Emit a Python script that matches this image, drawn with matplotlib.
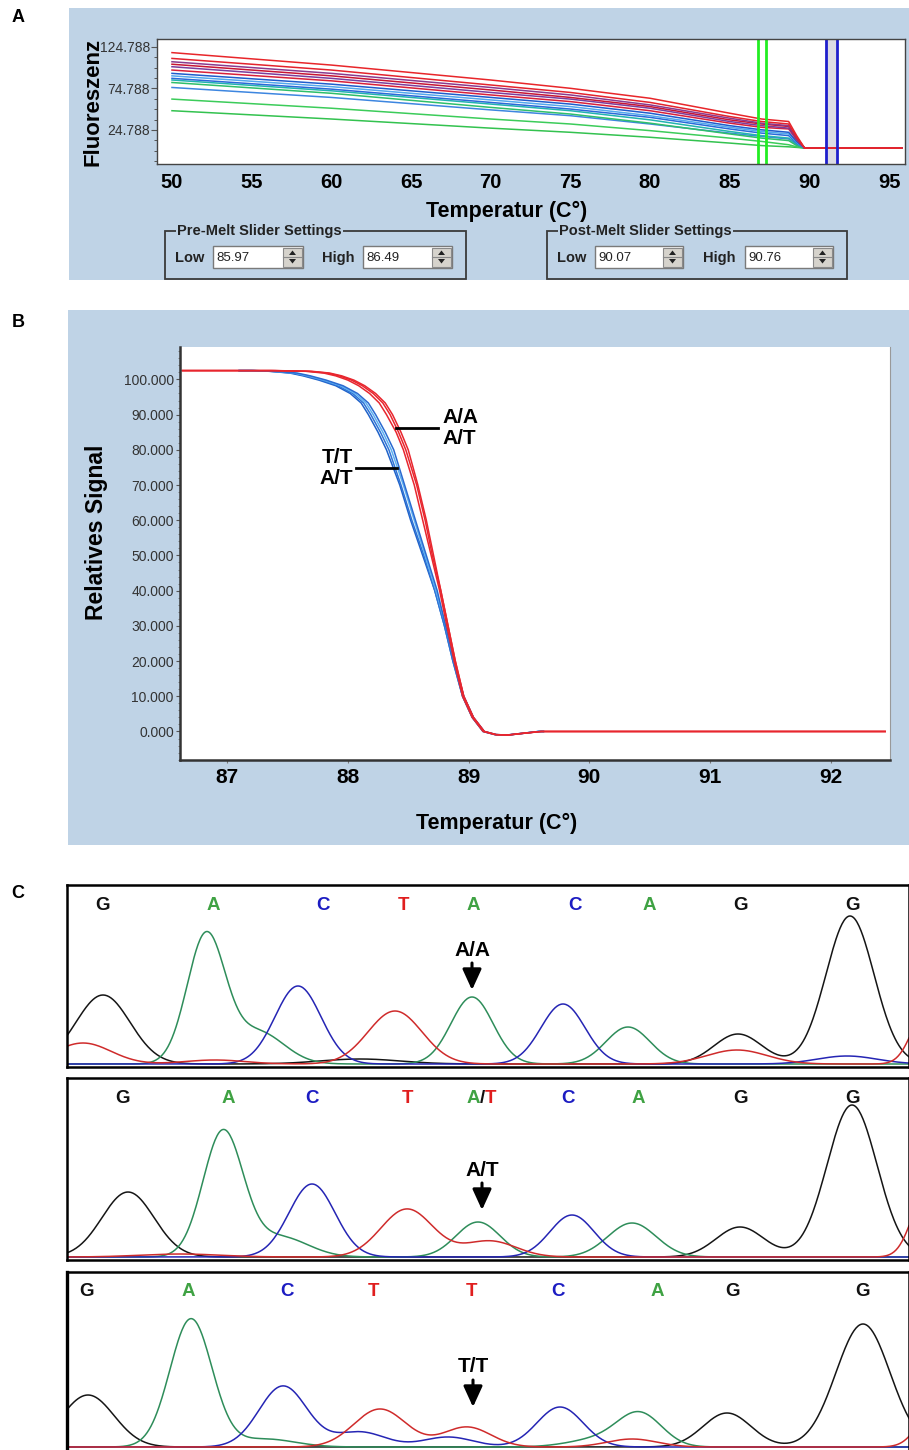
"""Schmelzkurven (A, B) und Sequenz-Chromatogramme (C)"""

import numpy as np
import matplotlib.pyplot as plt
from matplotlib.patches import Rectangle, Polygon
from matplotlib.ticker import FixedLocator, MultipleLocator

# ---------------- Daten A: Rohfluoreszenz ----------------
a_temps = [50, 60, 70, 75, 80, 85, 87, 88.7, 89.2, 89.7, 95.8]
a_curves = [
    ('green3', [48, 38, 27, 22, 16, 9, 6, 4.5, 3.8, 3, 3]),
    ('green2', [62, 51, 38, 32, 24, 15, 11, 7, 4.5, 3, 3]),
    ('blue3', [76, 64, 49, 42, 32, 21, 17, 14, 7, 3, 3]),
    ('green1', [82, 69, 52, 44, 33, 20, 15, 12, 6, 3, 3]),
    ('teal', [85, 72, 56, 48, 37, 23, 18, 15, 8, 3, 3]),
    ('blue2', [87, 74, 58, 50, 40, 26, 21, 18, 9, 3, 3]),
    ('lblue', [90, 77, 61, 53, 42, 28, 23, 20, 10, 3, 3]),
    ('blue1', [93, 80, 64, 56, 45, 30, 25, 22, 11, 3, 3]),
    ('red4', [97, 84, 67, 59, 48, 33, 28, 26, 13, 3, 3]),
    ('purple2', [101, 87, 70, 62, 51, 35, 30, 27, 14, 3, 3]),
    ('red3', [104, 90, 73, 64, 53, 37, 32, 29, 15, 3, 3]),
    ('purple1', [107, 93, 76, 67, 55, 39, 33, 30, 15, 3, 3]),
    ('red2', [111, 97, 79, 70, 58, 41, 35, 32, 16, 3, 3]),
    ('red1', [118, 103, 85, 75, 63, 45, 38, 35, 18, 3, 3]),
]
a_colors = {'green3': '#33c24f', 'green2': '#3ccc5a', 'green1': '#2fbf6a',
            'teal': '#22b3b0', 'blue3': '#3d86e0', 'blue2': '#2a6ad8',
            'lblue': '#52a8ee', 'blue1': '#1f5ccc', 'red4': '#d8203a',
            'purple2': '#7b3d9c', 'red3': '#c81535', 'purple1': '#8a3a8e',
            'red2': '#e3232d', 'red1': '#e8262a'}
a_pre_melt = [86.75, 87.25]
a_post_melt = [91.05, 91.75]
a_yticks = [24.788, 74.788, 124.788]
a_xticks = [50, 55, 60, 65, 70, 75, 80, 85, 90, 95]

# ---------------- Daten B: normalisierte Schmelzkurven ----------------
b_levels = [102.5, 102.5, 102.3, 101.8, 101, 99.8, 98.2, 96, 93.3, 90, 85, 80, 70,
            60, 50, 40, 30, 20, 10, 4, 0, -0.9, -1, -0.5, 0, 0]
b_red = [
    [86.63, 87.40, 87.70, 87.85, 87.95, 88.05, 88.14, 88.23, 88.31, 88.37, 88.44, 88.50, 88.58,
     88.65, 88.71, 88.77, 88.83, 88.89, 88.96, 89.04, 89.13, 89.23, 89.33, 89.46, 89.60, 92.45],
    [86.63, 87.38, 87.68, 87.83, 87.93, 88.03, 88.12, 88.21, 88.29, 88.35, 88.42, 88.48, 88.57,
     88.64, 88.70, 88.77, 88.83, 88.89, 88.96, 89.04, 89.13, 89.23, 89.33, 89.46, 89.60, 92.45],
    [86.63, 87.36, 87.65, 87.80, 87.90, 88.00, 88.09, 88.18, 88.26, 88.32, 88.40, 88.46, 88.55,
     88.62, 88.69, 88.76, 88.82, 88.88, 88.95, 89.03, 89.12, 89.22, 89.32, 89.45, 89.60, 92.45],
]
b_blue = [
    [87.10, 87.20, 87.35, 87.52, 87.63, 87.76, 87.90, 88.02, 88.11, 88.17, 88.25, 88.32, 88.43,
     88.52, 88.62, 88.72, 88.80, 88.87, 88.95, 89.03, 89.12, 89.22, 89.32, 89.45, 89.58, 89.62],
    [87.10, 87.21, 87.36, 87.54, 87.65, 87.78, 87.92, 88.04, 88.13, 88.19, 88.27, 88.34, 88.44,
     88.53, 88.63, 88.72, 88.80, 88.87, 88.95, 89.03, 89.12, 89.22, 89.32, 89.45, 89.58, 89.62],
    [87.10, 87.22, 87.38, 87.56, 87.67, 87.80, 87.94, 88.06, 88.15, 88.21, 88.29, 88.36, 88.46,
     88.55, 88.64, 88.73, 88.81, 88.88, 88.96, 89.04, 89.13, 89.23, 89.33, 89.46, 89.58, 89.62],
    [87.10, 87.23, 87.40, 87.58, 87.69, 87.82, 87.96, 88.08, 88.17, 88.23, 88.31, 88.38, 88.47,
     88.56, 88.65, 88.74, 88.81, 88.88, 88.96, 89.04, 89.13, 89.23, 89.33, 89.46, 89.58, 89.62],
]
b_blue_colors = ['#1f62c9', '#2f74d6', '#5cb0f2', '#2a6ad0']
b_yticks = [0, 10, 20, 30, 40, 50, 60, 70, 80, 90, 100]
b_xticks = [87, 88, 89, 90, 91, 92]

# ---------------- Daten C: Chromatogramme (Position, Hoehe, Breite) ----------------
c1_black = [(103, 69, 27), (360, 5, 40), (738, 30, 24), (850, 148, 24)]
c1_green = [(206, 128, 19), (258, 32, 26), (472, 67, 21), (628, 37, 22)]
c1_blue = [(298, 78, 23), (563, 60, 22), (847, 8, 30)]
c1_red = [(83, 21, 28), (215, 4, 30), (395, 53, 27), (737, 14, 30), (925, 50, 14)]

c2_black = [(128, 65, 26), (740, 30, 24), (852, 152, 25)]
c2_green = [(223, 125, 20), (280, 20, 28), (478, 35, 22), (632, 34, 24)]
c2_blue = [(312, 73, 23), (572, 42, 22)]
c2_red = [(180, 3, 40), (407, 48, 26), (490, 16, 26), (925, 60, 14)]

c3_black = [(88, 52, 26), (727, 34, 24), (863, 123, 27)]
c3_green = [(191, 128, 21), (265, 8, 30), (600, 8, 30), (640, 32, 22)]
c3_blue = [(283, 61, 24), (360, 15, 25), (448, 10, 25), (560, 40, 23)]
c3_red = [(380, 38, 26), (467, 20, 24), (632, 8, 25), (935, 40, 16)]

c1_bases = ['G', 'A', 'C', 'T', 'A', 'C', 'A', 'G', 'G']
c1_base_pos = [103, 213, 323, 403, 473, 575, 649, 740, 853]
c2_bases = ['G', 'A', 'C', 'T', 'A/T', 'C', 'A', 'G', 'G']
c2_base_pos = [123, 228, 312, 407, 482, 568, 638, 740, 852]
c3_bases = ['G', 'A', 'C', 'T', 'T', 'C', 'A', 'G', 'G']
c3_base_pos = [87, 188, 287, 373, 472, 558, 657, 732, 862]

c_genotypes = ['A/A', 'A/T', 'T/T']
c_snp_pos = [472, 482, 473]
c_arrow_tip = [74, 47, 40]

# ---------------- Layout ----------------
W, H = 909, 1450
BG = '#bfd3e6'
NARROW = ['Liberation Sans Narrow', 'Liberation Sans', 'DejaVu Sans']
plt.rcParams['font.family'] = ['Liberation Sans', 'DejaVu Sans']

fig = plt.figure(figsize=(W / 100, H / 100), dpi=100)


def box(x0, y0, x1, y1):
    return [x0 / W, 1 - y1 / H, (x1 - x0) / W, (y1 - y0) / H]


canvas = fig.add_axes([0, 0, 1, 1], zorder=-1)
canvas.set_xlim(0, W)
canvas.set_ylim(H, 0)
canvas.axis('off')

canvas.add_patch(Rectangle((69, 8), 840, 272, fc=BG, ec='none'))
canvas.add_patch(Rectangle((68, 310), 841, 535, fc=BG, ec='none'))

for lab, y in [('A', 17), ('B', 322), ('C', 893)]:
    canvas.text(18, y, lab, fontsize=13, fontweight='bold', ha='center', va='center')

# ---- Panel A ----
axA = fig.add_axes(box(157, 39, 905, 164))
axA.axvspan(a_post_melt[0], a_post_melt[1], color='#dcdce4', lw=0)
for name, vals in a_curves:
    axA.plot(a_temps, vals, color=a_colors[name], lw=1.1)
for x in a_pre_melt:
    axA.axvline(x, color='#22ee22', lw=2)
for x in a_post_melt:
    axA.axvline(x, color='#1f1fcc', lw=2)
axA.set_xlim(49.06, 96.0)
axA.set_ylim(-16.2, 134.4)
axA.set_yticks(a_yticks)
axA.set_yticklabels(['%.3f' % v for v in a_yticks], family=NARROW, fontsize=10, color='#333333')
axA.yaxis.set_minor_locator(FixedLocator([a_yticks[0] + 12.5 * k for k in range(-3, 10)]))
axA.tick_params(axis='y', which='major', length=4, width=0.8, pad=1, color='#555555')
axA.tick_params(axis='y', which='minor', length=2.5, width=0.7, color='#555555')
axA.set_xticks(a_xticks)
axA.set_xticklabels([str(v) for v in a_xticks], fontsize=14.5, fontweight='bold')
axA.tick_params(axis='x', length=0, pad=6.5)
for s in axA.spines.values():
    s.set_color('#444444')
    s.set_linewidth(1.0)

canvas.text(93, 102, 'Fluoreszenz', rotation=90, fontsize=16, fontweight='bold',
            ha='center', va='center')
canvas.text(507, 211, 'Temperatur (C°)', fontsize=15.5, fontweight='bold',
            ha='center', va='center')


def spin_input(x0, x1, value):
    canvas.add_patch(Rectangle((x0, 246), x1 - x0, 22, fc='white', ec='#7a7a7a', lw=1))
    canvas.text(x0 + 3, 257.5, value, fontsize=9.5, family=NARROW, ha='left', va='center',
                color='#222222')
    bx = x1 - 20
    canvas.add_patch(Rectangle((bx, 247.5), 19, 19, fc='#d6d3cc', ec='#8a8a8a', lw=0.8))
    canvas.plot([bx, bx + 19], [257, 257], color='#8a8a8a', lw=0.8)
    cx = bx + 9.5
    canvas.add_patch(Polygon([(cx - 3.5, 255), (cx + 3.5, 255), (cx, 250.5)], fc='#222222', ec='none'))
    canvas.add_patch(Polygon([(cx - 3.5, 259), (cx + 3.5, 259), (cx, 263.5)], fc='#222222', ec='none'))


def slider_group(x0, x1, title, low, high, low_box, high_box, high_x):
    canvas.add_patch(Rectangle((x0, 231), x1 - x0, 48, fc='none', ec='#3a3a3a', lw=1.3))
    canvas.text(x0 + 12, 231, title, fontsize=10.5, fontweight='bold', color='#222222',
                ha='left', va='center', bbox=dict(fc=BG, ec='none', pad=1))
    canvas.text(x0 + 10, 258, 'Low', fontsize=10.5, fontweight='bold', color='#222222',
                ha='left', va='center')
    canvas.text(high_x, 258, 'High', fontsize=10.5, fontweight='bold', color='#222222',
                ha='left', va='center')
    spin_input(low_box[0], low_box[1], low)
    spin_input(high_box[0], high_box[1], high)


slider_group(165, 466, 'Pre-Melt Slider Settings', '85.97', '86.49', (213, 303), (363, 452), 322)
slider_group(547, 847, 'Post-Melt Slider Settings', '90.07', '90.76', (595, 683), (745, 833), 703)

# ---- Panel B ----
axB = fig.add_axes(box(180, 347, 890, 760))
for temps, col in zip(b_blue, b_blue_colors):
    axB.plot(temps, b_levels, color=col, lw=1.1)
for temps in b_red:
    axB.plot(temps, b_levels, color='#e8262e', lw=1.1)
axB.set_xlim(86.61, 92.49)
axB.set_ylim(-8.1, 109.2)
axB.set_yticks(b_yticks)
axB.set_yticklabels(['%.3f' % v for v in b_yticks], family=NARROW, fontsize=10, color='#333333')
axB.yaxis.set_minor_locator(MultipleLocator(2))
axB.tick_params(axis='y', which='major', length=3, width=0.8, pad=1.5, color='#555555')
axB.tick_params(axis='y', which='minor', length=1.8, width=0.6, color='#777777')
axB.set_xticks(b_xticks)
axB.set_xticklabels([str(v) for v in b_xticks], family=NARROW, fontsize=15, fontweight='bold')
axB.tick_params(axis='x', length=2, width=0.8, pad=3.5, color='#777777')
axB.spines['left'].set_linewidth(1.8)
axB.spines['bottom'].set_linewidth(1.8)
axB.spines['left'].set_color('#333333')
axB.spines['bottom'].set_color('#333333')
axB.spines['top'].set_visible(False)
axB.spines['right'].set_color('#999999')
axB.spines['right'].set_linewidth(0.8)

axB.plot([88.40, 88.75], [86.2, 86.2], color='black', lw=2)
axB.text(88.78, 86.2, 'A/A\nA/T', fontsize=15, fontweight='bold', ha='left', va='center',
         linespacing=1.15)
axB.plot([88.07, 88.41], [74.8, 74.8], color='black', lw=2)
axB.text(88.04, 74.8, 'T/T\nA/T', fontsize=15, fontweight='bold', ha='right', va='center',
         linespacing=1.15)

canvas.text(97, 532, 'Relatives Signal', rotation=90, fontsize=16.5, fontweight='bold',
            ha='center', va='center')
canvas.text(497, 823, 'Temperatur (C°)', family=NARROW, fontsize=15.5, fontweight='bold',
            ha='center', va='center')

# ---- Panel C ----
scan = np.arange(67, 910, 1.0)
trace_colors = {'black': '#151515', 'green': '#2e8d5a', 'blue': '#2525b4', 'red': '#cf2b2b'}
base_colors = {'G': '#111111', 'A': '#3fa243', 'C': '#1c1cc2', 'T': '#e01e1e'}


def trace(peaks):
    y = np.zeros_like(scan)
    for p, h, w in peaks:
        y += h * np.exp(-0.5 * ((scan - p) / w) ** 2)
    return y


rows = [
    (box(67, 885, 909, 1067), (-3, 179), 0.89, c1_black, c1_green, c1_blue, c1_red, c1_bases, c1_base_pos),
    (box(67, 1078, 909, 1260), (-3, 179), 0.885, c2_black, c2_green, c2_blue, c2_red, c2_bases, c2_base_pos),
    (box(67, 1272, 909, 1450), (-3, 175), 0.888, c3_black, c3_green, c3_blue, c3_red, c3_bases, c3_base_pos),
]

BFS = 13.5
for i, (rect, ylim, ylab, blk, grn, blu, red, bases, bpos) in enumerate(rows):
    ax = fig.add_axes(rect)
    ax.plot(scan, trace(blk), color=trace_colors['black'], lw=1.1)
    ax.plot(scan, trace(grn), color=trace_colors['green'], lw=1.1)
    ax.plot(scan, trace(blu), color=trace_colors['blue'], lw=1.1)
    ax.plot(scan, trace(red), color=trace_colors['red'], lw=1.1)
    ax.set_xlim(67, 909)
    ax.set_ylim(*ylim)
    ax.set_xticks([])
    ax.set_yticks([])
    for s in ax.spines.values():
        s.set_linewidth(1.8)
        s.set_color('black')
    if i == 2:
        ax.spines['bottom'].set_visible(False)
        ax.spines['left'].set_linewidth(2.4)
    tr = ax.get_xaxis_transform()
    for b, p in zip(bases, bpos):
        if b == 'A/T':
            ax.annotate('/', (p, ylab), xycoords=tr, fontsize=BFS, fontweight='bold',
                        ha='center', va='center', color='#111111')
            ax.annotate('A', (p, ylab), xycoords=tr, xytext=(-1.7, 0), textcoords='offset points',
                        fontsize=BFS, fontweight='bold', ha='right', va='center', color=base_colors['A'])
            ax.annotate('T', (p, ylab), xycoords=tr, xytext=(1.7, 0), textcoords='offset points',
                        fontsize=BFS, fontweight='bold', ha='left', va='center', color=base_colors['T'])
        else:
            ax.text(p, ylab, b, transform=tr, fontsize=BFS, fontweight='bold',
                    ha='center', va='center', color=base_colors[b])
    tip = c_arrow_tip[i]
    pos = c_snp_pos[i]
    ax.annotate('', xy=(pos, tip), xytext=(pos, tip + 27),
                arrowprops=dict(arrowstyle='-|>,head_length=0.7,head_width=0.32',
                                color='black', lw=2.2, mutation_scale=18, shrinkA=0, shrinkB=0))
    ax.text(pos, tip + 40, c_genotypes[i], fontsize=15, fontweight='bold', ha='center', va='center')

fig.savefig('out.png', dpi=100)
